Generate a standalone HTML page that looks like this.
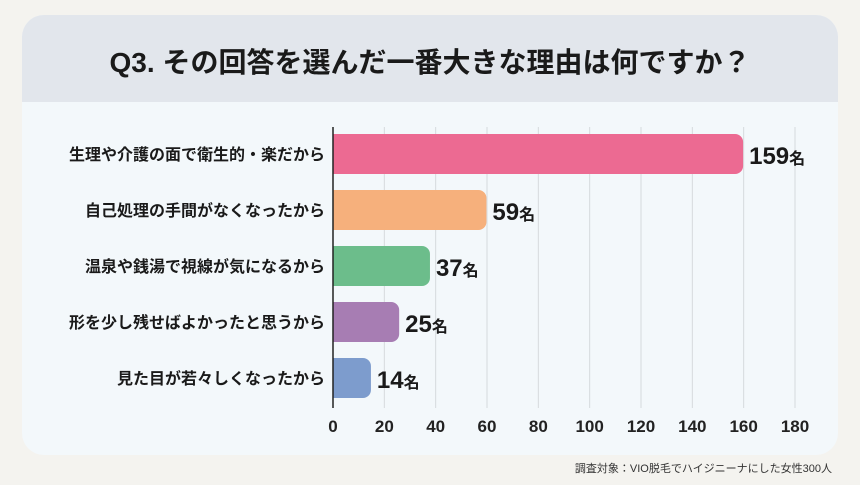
<!DOCTYPE html>
<html><head><meta charset="utf-8"><style>
body{margin:0;width:860px;height:480px;background:#f4f3ef;font-family:"Liberation Sans","Noto Sans CJK JP",sans-serif;overflow:hidden}
</style></head><body>
<svg width="860" height="480">
<rect x="22" y="15" width="816" height="440" rx="22" fill="#f3f8fb"/>
<path d="M22 102 V37 a22 22 0 0 1 22 -22 H816 a22 22 0 0 1 22 22 V102 Z" fill="#e2e6ec"/>
<text x="430" y="72" text-anchor="middle" font-size="28" font-weight="bold" fill="#1a1a1a" font-family="Liberation Sans,Noto Sans CJK JP,sans-serif">Q3. その回答を選んだ一番大きな理由は何ですか？</text>
<g id="grid"></g><g id="bars"></g><g id="ticks"></g>
<line x1="333" y1="127" x2="333" y2="408" stroke="#222" stroke-width="1.5"/>
<text x="832" y="472" text-anchor="end" font-size="11" fill="#333" font-family="Liberation Sans,Noto Sans CJK JP,sans-serif">調査対象：VIO脱毛でハイジニーナにした女性300人</text>
</svg>
<script>
const categories=["生理や介護の面で衛生的・楽だから","自己処理の手間がなくなったから","温泉や銭湯で視線が気になるから","形を少し残せばよかったと思うから","見た目が若々しくなったから"];
const values=[159,59,37,25,14];
const ticks=[0,20,40,60,80,100,120,140,160,180];
const colors=["#ec6a92","#f6b07c","#6cbd8b","#a77db3","#7d9ccd"];
const NS="http://www.w3.org/2000/svg";
const x=v=>333+v*(795-333)/180;
const y=i=>134+i*56;
function mk(t,a,p){const e=document.createElementNS(NS,t);for(const k in a)e.setAttribute(k,a[k]);p.appendChild(e);return e;}
const g=document.getElementById('grid'),b=document.getElementById('bars'),tk=document.getElementById('ticks');
ticks.forEach(t=>{
 if(t>0){const l=mk('line',{x1:x(t),x2:x(t),y1:127,y2:408,stroke:'#d6dadd','stroke-width':1},g);
 
 }
 const tx=mk('text',{x:x(t),y:432,'text-anchor':'middle','font-size':17,'font-weight':'bold',fill:'#222'},tk);
 tx.textContent=t;
 
 
});
categories.forEach((c,i)=>{
 const w=x(values[i])-x(0)+2;
 const r=mk('path',{d:`M${x(0)} ${y(i)} H${x(0)+w-8} a8 8 0 0 1 8 8 V${y(i)+32} a8 8 0 0 1 -8 8 H${x(0)} Z`,fill:colors[i]},b);
 
 
 const lb=mk('text',{x:325,y:y(i)+26,'text-anchor':'end','font-size':16,'font-weight':'bold',fill:'#1a1a1a'},b);
 lb.textContent=c;
 
 
 const v=mk('text',{x:x(values[i])+8,y:y(i)+30,'font-size':24,'font-weight':'bold',fill:'#1a1a1a'},b);
 v.innerHTML=values[i]+'<tspan font-size="16">名</tspan>';
 
 
});
</script>
</body></html>
